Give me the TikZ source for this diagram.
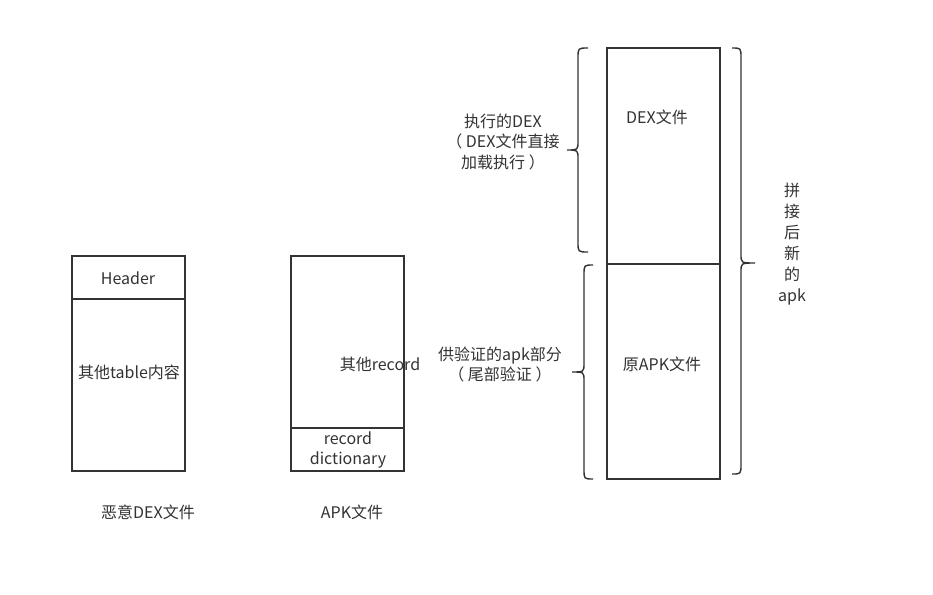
\documentclass[tikz,border=0pt]{standalone}
\usepackage{fontspec}
\setmainfont{Noto Sans CJK SC}
\definecolor{ink}{RGB}{51,51,51}
\begin{document}
\begin{tikzpicture}[x=1pt,y=-1pt,
  every node/.style={font=\fontsize{16}{20.5}\selectfont, text=ink, inner sep=0pt, align=center},
  boxline/.style={draw=ink, line width=1.4pt},
  brace/.style={draw=ink, line width=1.4pt}]
\useasboundingbox[fill=white] (0,0) rectangle (933,594);
% left box
\draw[boxline] (72,256) rectangle (185,471);
\draw[boxline] (72,299) -- (185,299);
\node (hdr) at (128,278) {Header};
\node (tbl) at (129,372) {其他table内容};
\node (dexlbl) at (148,512) {恶意DEX文件};
% middle box
\draw[boxline] (291,256) rectangle (404,471);
\draw[boxline] (291,428) -- (404,428);
\node (rec) at (380,364) {其他record};
\node (dict) at (348,450) {record\\dictionary};
\node (apklbl) at (352,512) {APK文件};
% right box
\draw[boxline] (607,48) rectangle (720,479);
\draw[boxline] (607,264) -- (720,264);
\node (dexf) at (657,117) {DEX文件};
\node (orig) at (662,364) {原APK文件};
% left labels
\node (exec) at (503,142) {执行的DEX\\（ DEX文件直接\\加载执行 ）};
\node (ver) at (500,364.5) {供验证的apk部分\\（ 尾部验证 ）};
% vertical label
\node[font=\fontsize{16}{21}\selectfont] (newapk) at (792,244.5) {拼\\接\\后\\新\\的\\apk};
% braces
\draw[brace] (588,48) .. controls (578,48) .. (578,58) -- (578,141)
  .. controls (578,150) .. (567,150) .. controls (578,150) .. (578,159)
  -- (578,242) .. controls (578,252) .. (588,252);
\draw[brace] (593,265) .. controls (584,265) .. (584,275) -- (584,363)
  .. controls (584,372) .. (572,372) .. controls (584,372) .. (584,381)
  -- (584,469) .. controls (584,479) .. (593,479);
\draw[brace] (732,48) .. controls (741,48) .. (741,58) -- (741,254)
  .. controls (741,263) .. (755,263) .. controls (741,263) .. (741,272)
  -- (741,464) .. controls (741,474) .. (732,474);
\end{tikzpicture}
\end{document}
